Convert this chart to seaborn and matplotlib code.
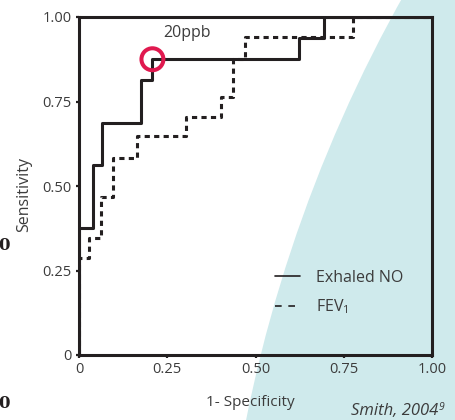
import matplotlib
matplotlib.use("Agg")
import matplotlib.pyplot as plt
import seaborn as sns
import pandas as pd
from matplotlib.patches import Circle
from matplotlib.lines import Line2D

# ---- data ----
no_fpr = [0.0, 0.0, 0.039, 0.066, 0.176, 0.208, 0.623, 0.693, 1.0]
no_tpr = [0.0, 0.375, 0.5625, 0.6875, 0.8125, 0.875, 0.9375, 1.0, 1.0]
fev_fpr = [0.0, 0.0, 0.029, 0.062, 0.097, 0.163, 0.302, 0.403, 0.435, 0.469, 0.777, 1.0]
fev_tpr = [0.0, 0.288, 0.345, 0.468, 0.584, 0.648, 0.705, 0.764, 0.875, 0.94, 1.0, 1.0]
cutoff_fpr = [0.208]
cutoff_tpr = [0.875]
cutoff_label = "20ppb"
tick_vals = [0, 0.25, 0.5, 0.75, 1.0]
tick_labels = ["0", "0.25", "0.50", "0.75", "1.00"]
series_labels = ["Exhaled NO", "FEV$_1$"]

sns.set_style("ticks")
plt.rcParams["font.family"] = ["Open Sans", "DejaVu Sans"]
plt.rcParams["mathtext.fontset"] = "custom"
plt.rcParams["mathtext.rm"] = "Open Sans"
plt.rcParams["mathtext.it"] = "Open Sans:italic"

INK = "#231f20"
GREY = "#3c3c3c"
RED = "#e0194f"
CYAN = "#cfeaec"

fig = plt.figure(figsize=(4.56, 4.2), dpi=100)

# background decorative shape
bg = fig.add_axes([0, 0, 1, 1], zorder=0)
bg.set_xlim(0, 456)
bg.set_ylim(420, 0)
bg.axis("off")
bg.add_patch(Circle((1668.5, 706.4), 1451, facecolor=CYAN, edgecolor="none"))

ax = fig.add_axes([79 / 456, 1 - 355 / 420, 353 / 456, 338 / 420], zorder=1)
ax.set_facecolor("none")

df_no = pd.DataFrame({"fpr": no_fpr, "tpr": no_tpr})
df_fev = pd.DataFrame({"fpr": fev_fpr, "tpr": fev_tpr})

sns.lineplot(data=df_no, x="fpr", y="tpr", ax=ax, sort=False, estimator=None,
             drawstyle="steps-post", color=INK, lw=2.2, zorder=3)
sns.lineplot(data=df_fev, x="fpr", y="tpr", ax=ax, sort=False, estimator=None,
             drawstyle="steps-post", color=INK, lw=2.2, dashes=False, zorder=3)
ax.lines[-1].set_dashes((1.7, 1.4))

sns.scatterplot(x=cutoff_fpr, y=cutoff_tpr, ax=ax, s=250, facecolor="none",
                edgecolor=RED, linewidth=2.9, zorder=5, marker="o")
ax.text(0.238, 0.953, cutoff_label, ha="left", va="center", fontsize=11.5, color=GREY)

ax.set_xlim(0, 1)
ax.set_ylim(0, 1)
ax.set_xticks(tick_vals)
ax.set_xticklabels(tick_labels)
ax.set_yticks(tick_vals)
ax.set_yticklabels(tick_labels)
ax.tick_params(direction="out", length=2.2, width=1.6, color=INK,
               labelsize=10.5, labelcolor=GREY, pad=3)
for s in ax.spines.values():
    s.set_visible(True)
    s.set_linewidth(2.2)
    s.set_color(INK)
ax.set_xlabel("")
ax.set_ylabel("")

handles = [Line2D([], [], color=INK, lw=1.2),
           Line2D([], [], color=INK, lw=1.2, dashes=(4, 4))]
fig.legend(handles, series_labels, loc="upper left",
           bbox_to_anchor=(275 / 456, 1 - 270 / 420), frameon=False,
           fontsize=11.5, handlelength=1.55, handletextpad=1.0,
           labelspacing=0.72, borderpad=0, borderaxespad=0, labelcolor=GREY)

fig.text(24 / 456, 1 - 195 / 420, "Sensitivity", rotation=90, ha="center",
         va="center", fontsize=11.5, color=GREY)
fig.text(250 / 456, 1 - 402 / 420, "1- Specificity", ha="center", va="center",
         fontsize=11, color=GREY)
fig.text(438 / 456, 1 - 411 / 420, "Smith, 2004", ha="right", va="center",
         fontsize=12, color=GREY, style="italic")
fig.text(439 / 456, 1 - 413 / 420, "9", ha="left", va="bottom",
         fontsize=7.5, color=GREY, style="italic")
fig.text(10 / 456, 1 - 245 / 420, "0", ha="right", va="center", fontsize=12,
         color=INK, fontweight="bold", family="DejaVu Serif")
fig.text(10 / 456, 1 - 403 / 420, "0", ha="right", va="center", fontsize=12,
         color=INK, fontweight="bold", family="DejaVu Serif")

fig.savefig("out.png", dpi=100)
